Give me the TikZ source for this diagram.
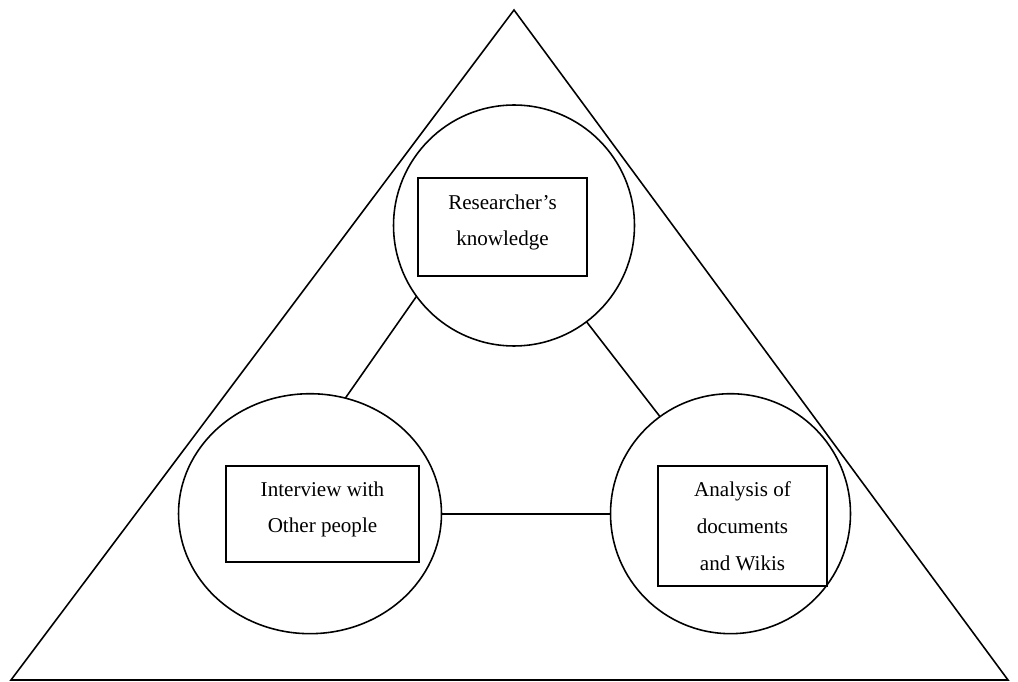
\documentclass[tikz,border=0pt]{standalone}
\usepackage{fontspec}
\setmainfont{Liberation Serif}
\usetikzlibrary{positioning,shapes.geometric}

\begin{document}
\begin{tikzpicture}[x=0.02cm, y=-0.02cm]
        % Define styles
        \tikzset{
            source/.style={draw, line width=0.9pt, inner sep=0pt, outer sep=0pt},
            topic/.style={rectangle, draw, line width=1.1pt, inner sep=0pt, align=center, font=\fontsize{12pt}{21pt}\selectfont},
            link/.style={line width=0.9pt}
        }
        \useasboundingbox (0,0) rectangle (1018,682);

        % Triangle corners
        \coordinate (apex) at (514,10);
        \coordinate (baseleft) at (11,680);
        \coordinate (baseright) at (1008,680);
        \draw [link, line join=miter] (apex) -- (baseleft) -- (baseright) -- cycle;

        % Create circles
        \node [source, circle, minimum size=4.82cm] (knowledge) at (514,225.5) {};
        \node [source, ellipse, minimum width=5.26cm, minimum height=4.8cm] (interview) at (310,513.7) {};
        \node [source, circle, minimum size=4.8cm] (analysis) at (730.5,513.7) {};

        % Create boxes
        \node [topic, text depth=7.7pt, minimum width=3.38cm, minimum height=1.96cm] (knowbox) at (502.5,227) {Researcher's\\knowledge};
        \node [topic, text depth=7.7pt, minimum width=3.86cm, minimum height=1.92cm] (interbox) at (322.5,514) {Interview with\\Other people};
        \node [topic, minimum width=3.38cm, minimum height=2.4cm] (anabox) at (742.5,526) {Analysis of\\documents\\and Wikis};

        % Create links
        \draw [link] (knowledge.216.4) -- (interview.73.2);
        \draw [link] (knowledge.307.1) -- (analysis.126.9);
        \draw [link, line width=1.1pt] (interview.east) -- (analysis.west);
    \end{tikzpicture}
\end{document}
